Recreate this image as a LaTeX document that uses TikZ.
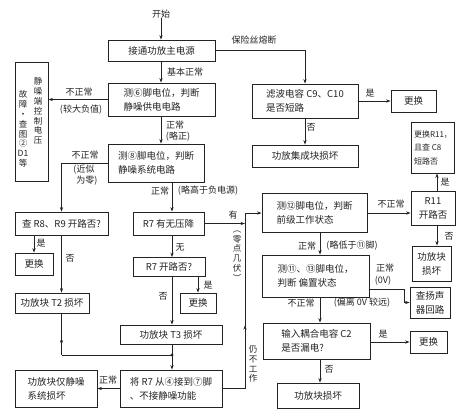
\documentclass[tikz,border=0pt]{standalone}
\usepackage{fontspec}
\setmainfont{Noto Sans CJK SC}
\usetikzlibrary{arrows.meta,decorations.markings,calc}
\definecolor{ink}{RGB}{35,35,35}
\begin{document}
\begin{tikzpicture}[x=1pt,y=-1pt,
  box/.style={draw=ink, line width=0.8pt, inner sep=0pt, text=ink, font=\fontsize{9.5}{14}\selectfont},
  lab/.style={inner sep=0pt, text=ink, font=\fontsize{9}{11}\selectfont},
  vt/.style={inner sep=0pt, text=ink, align=center, font=\fontsize{8.5}{9.8}\selectfont},
  arr/.style={draw=ink, line width=0.8pt, -{Stealth[length=4.5pt,width=3.2pt]}},
  ln/.style={draw=ink, line width=0.8pt},
  midarr/.style={postaction={decorate}, decoration={markings, mark=at position #1 with {\arrow{Stealth[length=4.5pt,width=3.2pt]}}}}
]
\useasboundingbox[fill=white] (0,0) rectangle (471,418);

% axes
\coordinate (axA) at (161,0);
\coordinate (axR) at (172,0);
\coordinate (axV) at (245,0);
\coordinate (axM) at (320,0);
\coordinate (axS) at (404,0);
\coordinate (axRR) at (437,0);
\coordinate (ys) at (0,289);
\coordinate (jn) at (172,355);

% boxes
\node[lab] (st) at (161,14) {开始};
\node[box, minimum width=107pt, minimum height=21pt] (b1) at (161.5,50.5) {接通功放主电源};
\node[box, minimum width=107pt, minimum height=33pt, align=left] (ce6) at (161.5,99.5) {测⑥脚电位，判断\\静噪供电电路};
\node[box, minimum width=33pt, minimum height=119pt] (lb) at (31.5,121.5) {};
\node[vt] (lbt1) at (38,111) {静\\噪\\端\\控\\制\\电\\压};
\node[vt] (lbt2) at (23,129) {故\\障\\·\\查\\图\\②\\D1\\等};
\node[box, minimum width=96pt, minimum height=38pt, align=left] (ce8) at (156,163) {测⑧脚电位，判断\\静噪系统电路};
\node[box, minimum width=93pt, minimum height=23pt] (r89) at (61.5,223.5) {查 R8、R9 开路否?};
\node[box, minimum width=71pt, minimum height=23pt] (r7a) at (168.5,223.5) {R7 有无压降};
\node[box, minimum width=38pt, minimum height=22pt] (gh1) at (34,264) {更换};
\node[box, minimum width=72pt, minimum height=19pt] (r7b) at (169,267) {R7 开路否?};
\node[box, minimum width=74pt, minimum height=20pt] (t2) at (52,303) {功放块 T2 损坏};
\node[box, minimum width=36pt, minimum height=20pt] (gh2) at (198,303) {更换};
\node[box, minimum width=102pt, minimum height=19pt] (t3) at (171,334.5) {功放块 T3 损坏};
\node[box, minimum width=102pt, minimum height=37pt, align=left] (jr7) at (171,388.5) {将 R7 从④接到⑦脚\\、不接静噪功能};
\node[box, minimum width=82pt, minimum height=37pt, align=left] (jz) at (56,388.5) {功放块仅静噪\\系统损坏};

\node[box, minimum width=106pt, minimum height=34pt, align=left] (c910) at (305,101) {滤波电容 C9、C10\\是否短路};
\node[box, minimum width=45pt, minimum height=22pt] (gh3) at (413.5,101) {更换};
\node[box, minimum width=106pt, minimum height=22pt] (ic) at (305,156) {功放集成块损坏};
\node[box, minimum width=43pt, minimum height=51pt, align=left, font=\fontsize{8}{13.5}\selectfont] (r11c) at (433,147.5) {更换R11，\\且查 C8\\短路否};
\node[box, minimum width=44pt, minimum height=34pt, align=center] (r11) at (433,208) {R11\\开路否};
\node[box, minimum width=39pt, minimum height=35pt, align=center] (gb1) at (431.5,263.5) {功放块\\损坏};
\node[box, minimum width=105pt, minimum height=39pt, align=left] (ce12) at (314.5,213) {测⑫脚电位，判断\\前级工作状态};
\node[box, minimum width=107pt, minimum height=42pt, align=left] (ce1113) at (315.5,276) {测⑪、⑬脚电位，\\判断 偏置状态};
\node[box, minimum width=40pt, minimum height=31pt, align=center] (spk) at (430,302.5) {查扬声\\器回路};
\node[box, minimum width=107pt, minimum height=36pt, align=left] (c2) at (316.5,341) {输入耦合电容 C2\\是否漏电?};
\node[box, minimum width=37pt, minimum height=22pt] (gh4) at (428.5,342) {更换};
\node[box, minimum width=82pt, minimum height=25pt] (gb2) at (318,395.5) {功放块损坏};

% connectors
\draw[arr] (st.south -| axA) -- (b1.north -| axA);
\draw[arr] (b1.south -| axA) -- (ce6.north -| axA);
\draw[arr] (b1.east) -| (c910.north);
\draw[arr] (c910.east) -- (gh3.west);
\draw[arr] (c910.south) -- (ic.north);
\draw[arr] (ce6.west) -- (ce6.west -| lb.east);
\draw[arr] (ce6.south -| axA) -- (ce8.north -| axA);
\draw[arr] (ce8.west) -| (r89.north);
\draw[arr] (ce8.south -| axR) -- (r7a.north -| axR);
\draw[arr] (gh1.north |- r89.south) -- (gh1.north);
\draw[arr] (r89.south) -- (t2.north -| r89.south);
\draw[ln, midarr=0.75] (t2.south -| r89.south) -- (jn -| r89.south);
\draw[ln] (jn -| r89.south) -- (jn);
\draw[arr] (r7a.south -| axR) -- (r7b.north -| axR);
\draw[arr] (r7b.south -| axR) -- (t3.north -| axR);
\draw[arr] (gh2.north |- r7b.south) -- (gh2.north);
\draw[arr] (t3.south -| axR) -- (jr7.north -| axR);
\fill[ink] (jn) circle (1.6pt);
\draw[arr] (jr7.west) -- (jr7.west -| jz.east);
\draw[arr, midarr=0.4] (jr7.east) -- (jr7.east -| axV) -- (ce12.west -| axV) -- (ce12.west);
\draw[arr] (r7a.east) -- (r7a.east -| axV);
\draw[arr] (ce12.east) -- (ce12.east -| r11.west);
\draw[arr] (r11.north -| axRR) -- (r11c.south -| axRR);
\draw[arr] (r11.south -| axRR) -- (gb1.north -| axRR);
\draw[arr] (ce12.south -| axM) -- (ce1113.north -| axM);
\draw[arr] (ce1113.south -| axM) -- (c2.north -| axM);
\draw[arr] (c2.south -| axM) -- (gb2.north -| axM);
\draw[arr] (ce1113.east |- ys) -- (axS |- ys) |- (spk.west);
\draw[arr] (c2.east |- gh4.west) -- (gh4.west);

% labels
\node[lab] (l1) at (185,72) {基本正常};
\node[lab] (l2) at (254,40) {保险丝熔断};
\node[lab] (l3) at (79,92) {不正常};
\node[lab] (l4) at (81,110) {(较大负值)};
\node[lab] (l5) at (175,125) {正常};
\node[lab] (l6) at (178,137) {(略正)};
\node[lab] (l7) at (85,155) {不正常};
\node[lab] (l8) at (84,170) {(近似};
\node[lab] (l9) at (87,181) {为零)};
\node[lab] (l10) at (160,191) {正常};
\node[lab] (l11) at (208,191) {(略高于负电源)};
\node[lab] (l12) at (41,243) {是};
\node[lab] (l13) at (70,258) {否};
\node[lab] (l14) at (180,247) {无};
\node[lab] (l15) at (208,285) {是};
\node[lab] (l16) at (163,296) {否};
\node[lab] (l17) at (108,380) {正常};
\node[lab] (l18) at (233,215) {有};
\node[vt] (l19) at (237,256) {︵\\零\\点\\几\\伏\\︶};
\node[vt] (l20) at (253,364) {仍\\不\\工\\作};
\node[lab] (l21) at (370,93) {是};
\node[lab] (l22) at (311,127) {否};
\node[lab] (l23) at (391,204) {不正常};
\node[lab] (l24) at (445,182) {是};
\node[lab] (l25) at (449,236) {否};
\node[lab] (l26) at (307,246) {正常};
\node[lab] (l27) at (352,246) {(略低于⑪脚)};
\node[lab] (l28) at (385,268) {正常};
\node[lab] (l29) at (383,281) {(0V)};
\node[lab] (l30) at (301,303) {不正常};
\node[lab] (l31) at (362,303) {(偏离 0V 较远)};
\node[lab] (l32) at (383,334) {是};
\node[lab] (l33) at (329,369) {否};
\end{tikzpicture}
\end{document}
